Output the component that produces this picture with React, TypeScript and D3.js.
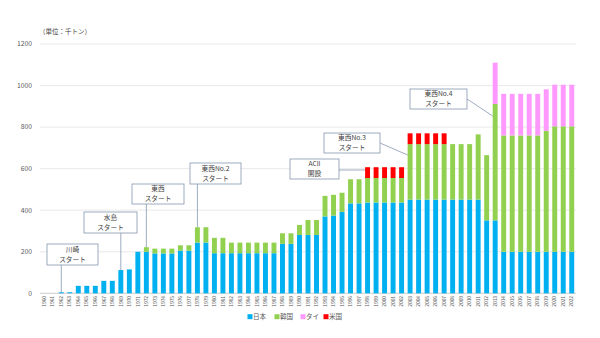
import React from "react";
import * as d3 from "d3";

const years: number[] = Array.from({ length: 63 }, (_, i) => 1960 + i);

const japan: number[] = [
  0, 0, 5, 5, 36, 36, 36, 60, 60, 112,
  115, 200, 200, 192, 192, 192, 205, 205, 244, 244,
  193, 193, 193, 193, 193, 193, 193, 193, 238, 238,
  281, 281, 281, 370, 374, 392, 433, 433, 437, 437,
  437, 437, 437, 451, 451, 451, 451, 451, 451, 451,
  451, 451, 351, 351, 200, 200, 200, 200, 200, 200,
  200, 200, 200,
];
const korea: number[] = [
  0, 0, 0, 0, 0, 0, 0, 0, 0, 0,
  0, 0, 22, 23, 23, 23, 26, 26, 74, 74,
  74, 74, 51, 51, 51, 51, 51, 51, 51, 51,
  48, 72, 72, 99, 100, 92, 116, 116, 118, 118,
  118, 118, 118, 267, 267, 267, 267, 267, 267, 267,
  267, 314, 314, 560, 560, 560, 560, 560, 560, 582,
  604, 604, 604,
];
const thai: number[] = [
  0, 0, 0, 0, 0, 0, 0, 0, 0, 0,
  0, 0, 0, 0, 0, 0, 0, 0, 0, 0,
  0, 0, 0, 0, 0, 0, 0, 0, 0, 0,
  0, 0, 0, 0, 0, 0, 0, 0, 0, 0,
  0, 0, 0, 0, 0, 0, 0, 0, 0, 0,
  0, 0, 0, 199, 200, 200, 200, 200, 200, 200,
  200, 200, 200,
];
const usa: number[] = [
  0, 0, 0, 0, 0, 0, 0, 0, 0, 0,
  0, 0, 0, 0, 0, 0, 0, 0, 0, 0,
  0, 0, 0, 0, 0, 0, 0, 0, 0, 0,
  0, 0, 0, 0, 0, 0, 0, 0, 52, 52,
  52, 52, 52, 52, 52, 52, 52, 52, 0, 0,
  0, 0, 0, 0, 0, 0, 0, 0, 0, 0,
  0, 0, 0,
];

const seriesNames: string[] = ["日本", "韓国", "タイ", "米国"];
const seriesColors: string[] = ["#00b0f0", "#92d050", "#ff99ff", "#ff0000"];
const yTicks: number[] = [0, 200, 400, 600, 800, 1000, 1200];
const unitLabel = "（単位：千トン）";

const annotYears: number[] = [1962, 1969, 1972, 1978, 1998, 2003, 2013];
const annotLines: string[][] = [
  ["川崎", "スタート"],
  ["水島", "スタート"],
  ["東西", "スタート"],
  ["東西No.2", "スタート"],
  ["ACII", "開設"],
  ["東西No.3", "スタート"],
  ["東西No.4", "スタート"],
];

// layout of callout boxes (pixels): x, y, w, h, leader type
const boxLayout = [
  { x: 47, y: 244, w: 51, h: 21, kind: "v" },
  { x: 84, y: 212, w: 53, h: 21, kind: "v" },
  { x: 132, y: 184, w: 52, h: 20, kind: "v" },
  { x: 190, y: 163, w: 51, h: 21, kind: "v" },
  { x: 290, y: 159, w: 49, h: 20, kind: "h", ly: 170 },
  { x: 324, y: 133, w: 56, h: 20, kind: "d", ly: 143, ey: 155 },
  { x: 410, y: 89, w: 57, h: 20, kind: "d", ly: 99, ey: 116 },
];

const FONT = "'Noto Sans CJK JP', 'Noto Sans', sans-serif";

export default function App() {
  const W = 600, H = 338;
  const x = d3.scaleBand<number>().domain(years).range([40, 576]).paddingInner(0.42).paddingOuter(0.21);
  const y = d3.scaleLinear().domain([0, 1200]).range([293.3, 44]);
  const table = years.map((yr, i) => ({ year: yr, s0: japan[i], s1: korea[i], s2: thai[i], s3: usa[i] }));
  const stack = d3.stack<any>().keys(["s0", "s1", "s2", "s3"])(table);
  const bw = x.bandwidth();

  return (
    <svg width={W} height={H} style={{ position: "absolute", left: 0, top: 0, background: "#fff" }} fontFamily={FONT}>
      <rect width={W} height={H} fill="#fff" />
      <text x={39} y={34} fontSize={6.5} fill="#404040">{unitLabel}</text>
      {yTicks.map((t) => (
        <g key={t}>
          <line x1={40} x2={576} y1={y(t)} y2={y(t)} stroke={t === 0 ? "#bfbfbf" : "#e3e3e3"} strokeWidth={0.8} />
          <text x={32} y={y(t)} dy="0.35em" textAnchor="end" fontSize={6.8} fill="#595959">{t}</text>
        </g>
      ))}
      {stack.map((layer, si) => (
        <g key={si} fill={seriesColors[si]}>
          {layer.map((d, i) => {
            const h = y(d[0]) - y(d[1]);
            if (h <= 0) return null;
            return <rect key={i} x={x(years[i])!} y={y(d[1])} width={bw} height={h} />;
          })}
        </g>
      ))}
      {years.map((yr) => (
        <text key={yr} transform={`translate(${x(yr)! + bw / 2 + 1.7},${296}) rotate(-90)`} textAnchor="end" fontSize={4.8} fill="#595959">{yr}</text>
      ))}
      {annotYears.map((yr, i) => {
        const b = boxLayout[i];
        const cx = x(yr)! + bw / 2;
        const idx = years.indexOf(yr);
        const top = japan[idx] + korea[idx] + thai[idx] + usa[idx];
        let line;
        if (b.kind === "v") {
          line = <line x1={cx} x2={cx} y1={b.y + b.h} y2={y(top)} stroke="#8497b0" strokeWidth={0.8} />;
        } else if (b.kind === "h") {
          line = <line x1={b.x + b.w} x2={x(yr)!} y1={b.ly} y2={b.ly} stroke="#8497b0" strokeWidth={0.8} />;
        } else {
          line = <line x1={b.x + b.w} x2={x(yr)!} y1={b.ly} y2={b.ey} stroke="#8497b0" strokeWidth={0.8} />;
        }
        return (
          <g key={yr}>
            {line}
            <rect x={b.x} y={b.y} width={b.w} height={b.h} fill="#fff" stroke="#8497b0" strokeWidth={0.8} />
            {annotLines[i].map((t, j) => (
              <text key={j} x={b.x + b.w / 2} y={b.y + b.h / 2 + (j - 0.5) * 9.8} dy="0.35em" textAnchor="middle" fontSize={6.7} fill="#404040">{t}</text>
            ))}
          </g>
        );
      })}
      {seriesNames.map((n, i) => {
        const lx = [250, 277, 303, 326][i];
        return (
          <g key={n}>
            <rect x={lx - 2.5} y={314.2} width={5} height={5} fill={seriesColors[i]} />
            <text x={lx + 3} y={316.7} dy="0.35em" fontSize={6.6} fill="#595959">{n}</text>
          </g>
        );
      })}
    </svg>
  );
}
